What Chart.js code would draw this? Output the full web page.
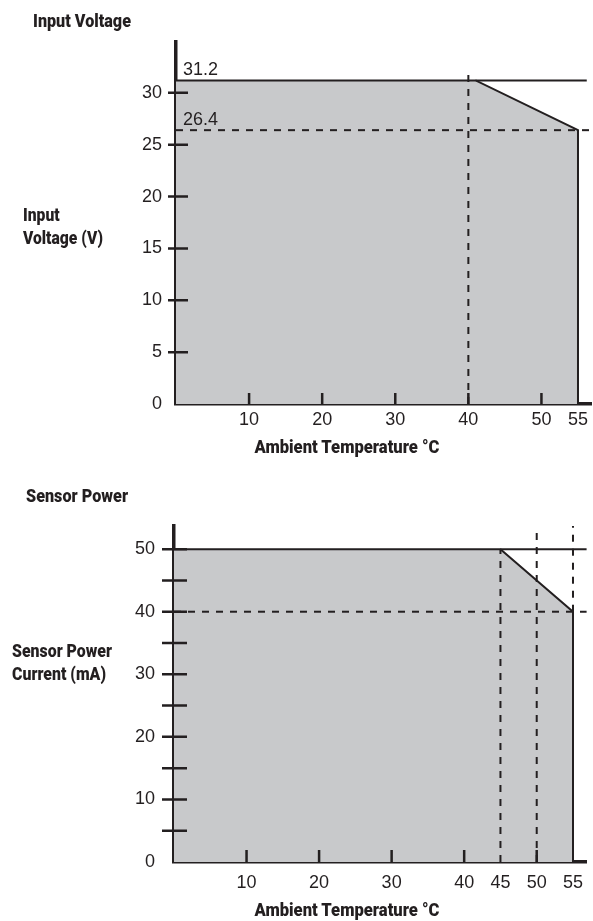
<!DOCTYPE html>
<html>
<head>
<meta charset="utf-8">
<script src="https://cdn.jsdelivr.net/npm/chart.js@4.4.1/dist/chart.umd.min.js"></script>
<style>
  html, body { margin: 0; padding: 0; background: #fff; }
  #page { position: relative; width: 593px; height: 921px; overflow: hidden; }
  .box { position: absolute; left: 0; width: 593px; }
  .lbl {
    position: absolute;
    font-family: Roboto, "Liberation Sans", sans-serif;
    font-weight: 900; font-size: 19px; line-height: 23px;
    color: #231f20; white-space: nowrap;
    transform-origin: 0 0;
  }
  .ctr { transform-origin: 50% 0; }
</style>
</head>
<body>
<div id="page">
  <div class="box" style="top:0; height:460px;"><canvas id="voltChart" width="593" height="460"></canvas></div>
  <div class="box" style="top:460px; height:461px;"><canvas id="sensChart" width="593" height="461"></canvas></div>

  <div class="lbl" data-w="98" style="left:33px; top:9px;">Input Voltage</div>
  <div class="lbl" data-w="80" style="left:23px; top:203px;">Input<br>Voltage (V)</div>
  <div class="lbl ctr" data-w="185" style="left:347px; top:435px;">Ambient Temperature °C</div>

  <div class="lbl" data-w="102" style="left:26px; top:484px;">Sensor Power</div>
  <div class="lbl" data-w="100" style="left:12px; top:639px;">Sensor Power<br>Current (mA)</div>
  <div class="lbl ctr" data-w="185" style="left:347px; top:898px;">Ambient Temperature °C</div>
</div>

<script>
// input voltage derating (°C -> V)
const voltTemp  = [0, 41, 55, 55];
const voltLimit = [31.2, 31.2, 26.4, 0];
const voltMax = 31.2;
const voltMin = 26.4;
const voltKnee = 40;
const voltXTicks = [10, 20, 30, 40, 50, 55];
const voltYTicks = [0, 5, 10, 15, 20, 25, 30];

// sensor power derating (°C -> mA)
const sensTemp  = [0, 45, 55, 55];
const sensLimit = [50, 50, 40, 0];
const sensMax = 50;
const sensMin = 40;
const sensGuides = [45, 50, 55];
const sensXTicks = [10, 20, 30, 40, 45, 50, 55];
const sensYTicks = [0, 5, 10, 15, 20, 25, 30, 35, 40, 45, 50];
const sensYLabels = [0, 10, 20, 30, 40, 50];

const INK = '#231f20';
const GREY = '#c8c9cb';
const tickFont = { family: '"Liberation Sans", Arial, sans-serif', size: 18 };
const X_MAX = 56.9;

// squeeze the bold labels to the condensed width of the original
document.querySelectorAll('.lbl').forEach(el => {
  const k = Number(el.dataset.w) / el.getBoundingClientRect().width;
  el.style.transform = (el.classList.contains('ctr') ? 'translateX(-50%) ' : '') + 'scaleX(' + k.toFixed(3) + ')';
});

function pts(xs, ys) {
  return xs.map((x, i) => ({ x: x, y: ys[i] }));
}

// tick marks: y ticks cross the axis, x ticks point up into the plot
const axisMarks = {
  id: 'axisMarks',
  afterDatasetsDraw(chart, args, o) {
    const { ctx, scales: { x, y } } = chart;
    ctx.save();
    ctx.strokeStyle = INK;
    ctx.lineWidth = 2.5;
    ctx.beginPath();
    o.yMarks.forEach(v => {
      const py = y.getPixelForValue(v);
      ctx.moveTo(x.left - o.yOut, py);
      ctx.lineTo(x.left + o.yIn, py);
    });
    o.xMarks.forEach(v => {
      const px = x.getPixelForValue(v);
      ctx.moveTo(px, y.bottom);
      ctx.lineTo(px, y.bottom - o.xIn);
    });
    ctx.stroke();
    ctx.restore();
  }
};

// small value notes next to the y axis (31.2 / 26.4)
const valueNotes = {
  id: 'valueNotes',
  afterDatasetsDraw(chart, args, o) {
    if (!o.values) return;
    const { ctx, scales: { x, y } } = chart;
    ctx.save();
    ctx.fillStyle = INK;
    ctx.font = '18px "Liberation Sans", Arial, sans-serif';
    ctx.textBaseline = 'alphabetic';
    o.values.forEach(v => {
      ctx.fillText(String(v), x.getPixelForValue(0) + 7, y.getPixelForValue(v) - 5);
    });
    ctx.restore();
  }
};

function solid(data, extra) {
  return Object.assign({ data: data, borderColor: INK, borderWidth: 2, pointRadius: 0, fill: false, order: 1 }, extra || {});
}
function dashed(data) {
  return solid(data, { borderDash: [7, 7] });
}

function derating(id, cfg) {
  return new Chart(document.getElementById(id), {
    type: 'line',
    data: { datasets: cfg.datasets },
    options: {
      responsive: false,
      animation: false,
      layout: { padding: { top: cfg.top, left: 0, right: 0, bottom: 0 } },
      scales: {
        x: {
          type: 'linear', min: 0, max: X_MAX,
          afterBuildTicks: s => { s.ticks = cfg.xTicks.map(v => ({ value: v })); },
          afterFit: s => { s.height = cfg.xHeight; },
          grid: { display: false, drawTicks: false },
          border: { display: true, color: INK, width: 3.5 },
          ticks: { color: INK, font: tickFont, padding: cfg.xPad, maxRotation: 0, autoSkip: false }
        },
        y: {
          type: 'linear', min: 0, max: cfg.yMax,
          afterBuildTicks: s => { s.ticks = cfg.yTicks.map(v => ({ value: v })); },
          afterFit: s => { s.width = cfg.yWidth; },
          grid: { display: false, drawTicks: false },
          border: { display: true, color: INK, width: 3.5 },
          ticks: { color: INK, font: tickFont, padding: cfg.yPad, autoSkip: false,
                   callback: v => (cfg.yLabels ? (cfg.yLabels.includes(v) ? v : '') : v) }
        }
      },
      plugins: {
        legend: { display: false },
        tooltip: { enabled: false },
        axisMarks: cfg.marks,
        valueNotes: { values: cfg.notes }
      }
    },
    plugins: [axisMarks, valueNotes]
  });
}

derating('voltChart', {
  top: 42, xHeight: 56, yWidth: 176, yMax: 34.9, xPad: 5, yPad: 14,
  xTicks: voltXTicks, yTicks: voltYTicks, notes: [voltMax, voltMin],
  marks: { yMarks: voltYTicks.filter(v => v > 0), xMarks: voltXTicks.filter(v => v % 10 === 0), yOut: 8, yIn: 12, xIn: 11 },
  datasets: [
    solid(pts(voltTemp, voltLimit), { fill: 'origin', backgroundColor: GREY, order: 10 }),
    solid(pts([voltTemp[1], 56.2], [voltMax, voltMax])),
    dashed(pts([0, X_MAX], [voltMin, voltMin])),
    dashed(pts([voltKnee, voltKnee], [0, 31.9]))
  ]
});

derating('sensChart', {
  top: 66, xHeight: 59, yWidth: 174, yMax: 53.7, xPad: 10, yPad: 19,
  xTicks: sensXTicks, yTicks: sensYTicks, yLabels: sensYLabels,
  marks: { yMarks: sensYTicks.filter(v => v > 0), xMarks: sensXTicks.filter(v => v % 10 === 0), yOut: 12, yIn: 13, xIn: 12 },
  datasets: [
    solid(pts(sensTemp, sensLimit), { fill: 'origin', backgroundColor: GREY, order: 10 }),
    solid(pts([sensTemp[1], X_MAX], [sensMax, sensMax])),
    dashed(pts([0, X_MAX], [sensMin, sensMin])),
    dashed(pts([sensGuides[0], sensGuides[0]], [0, sensMax])),
    dashed(pts([sensGuides[1], sensGuides[1]], [0, 53.7])),
    dashed(pts([sensGuides[2], sensGuides[2]], [sensMin, 53.7]))
  ]
});
</script>
</body>
</html>
